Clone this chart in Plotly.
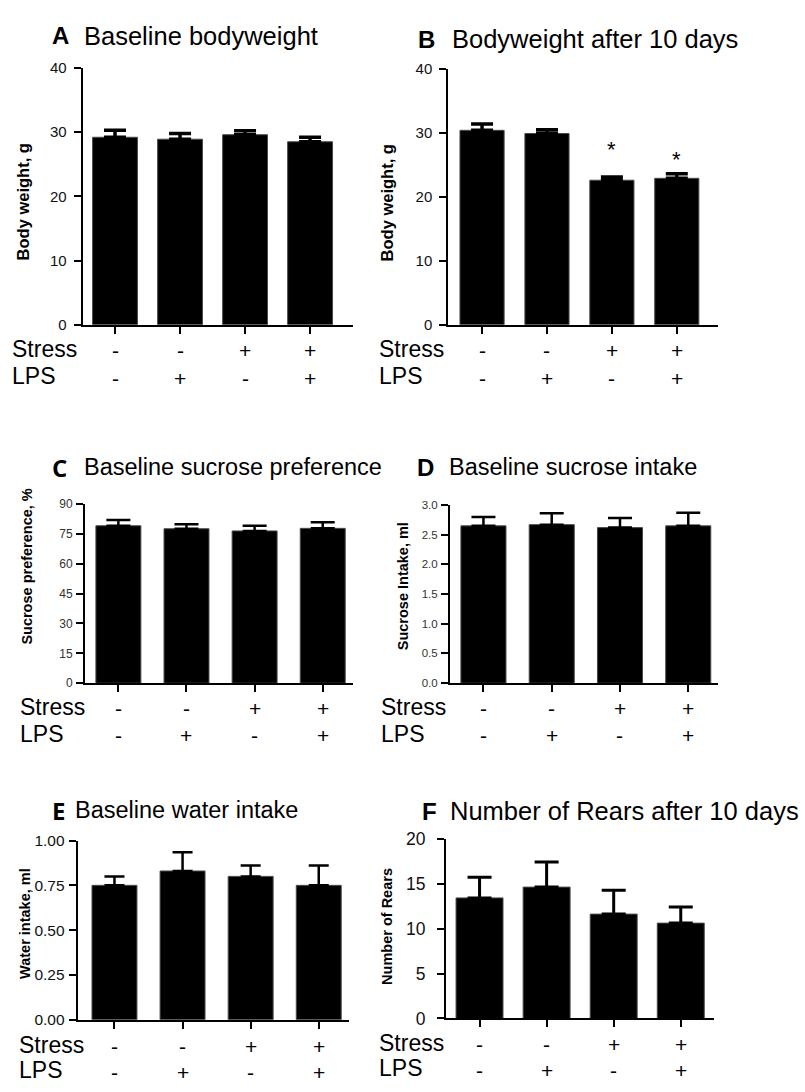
import plotly.graph_objects as go

W, H = 805, 1092

# ---------------- data ----------------
groups = ["Ctrl", "LPS", "Stress", "Stress+LPS"]
stress_signs = ["-", "-", "+", "+"]
lps_signs = ["-", "+", "-", "+"]

bw_base_mean = [29.2, 28.9, 29.6, 28.5]
bw_base_sem = [1.1, 0.9, 0.6, 0.7]

bw_10d_mean = [30.4, 29.9, 22.6, 22.9]
bw_10d_sem = [1.0, 0.6, 0.5, 0.7]
bw_10d_star = ["", "", "*", "*"]
bw_10d_star_y = [0, 0, 28.0, 26.4]

sucpref_mean = [79.1, 77.6, 76.5, 77.8]
sucpref_sem = [2.9, 2.3, 2.6, 3.1]

sucint_mean = [2.65, 2.67, 2.62, 2.65]
sucint_sem = [0.15, 0.19, 0.16, 0.22]

water_mean = [0.75, 0.83, 0.80, 0.75]
water_sem = [0.05, 0.105, 0.06, 0.11]

rears_mean = [13.4, 14.6, 11.6, 10.6]
rears_sem = [2.3, 2.8, 2.65, 1.8]

ticks_bw = [0, 10, 20, 30, 40]
ticks_pref = [0, 15, 30, 45, 60, 75, 90]
ticks_int = [0.0, 0.5, 1.0, 1.5, 2.0, 2.5, 3.0]
ticks_water = [0.0, 0.25, 0.5, 0.75, 1.0]
ticks_rears = [0, 5, 10, 15, 20]

# ---------------- layout geometry (pixels) ----------------
panels = [
    dict(letter="A", title="Baseline bodyweight", ytitle="Body weight, g",
         mean=bw_base_mean, sem=bw_base_sem, ticks=ticks_bw, fmt="d",
         xpx=(82.7, 353), ypx=(320.7, 59), xr=(-0.497, 3.66), yr=(0, 40), bw=0.69,
         tfs=15, tcol="#111", capw=11, capt=3.5, standoff=4,
         lx=50, tx=82, ty=26, tsize=25.5, lsize=24, lfont="Liberation Sans",
         ytx=23, yty=196, ytsize=16.5, rowx=10, srow=345, lrow=373),
    dict(letter="B", title="Bodyweight after 10 days", ytitle="Body weight, g",
         mean=bw_10d_mean, sem=bw_10d_sem, ticks=ticks_bw, fmt="d",
         xpx=(448.3, 717.7), ypx=(320.7, 60), xr=(-0.52, 3.63), yr=(0, 40), bw=0.68,
         tfs=15, tcol="#111", capw=11, capt=3.5, standoff=4,
         lx=416, tx=450, ty=30, tsize=25.5, lsize=24, lfont="Liberation Sans",
         ytx=387, yty=197, ytsize=16.5, rowx=377, srow=345, lrow=373),
    dict(letter="C", title="Baseline sucrose preference", ytitle="Sucrose preference, %",
         mean=sucpref_mean, sem=sucpref_sem, ticks=ticks_pref, fmt="d",
         xpx=(85, 352.7), ypx=(685.7, 503.3), xr=(-0.49, 3.44), yr=(0, 90), bw=0.66,
         tfs=12, tcol="#333", capw=12, capt=2.5, standoff=1,
         lx=50, tx=82, ty=466, tsize=23.5, lsize=24, lfont="Open Sans",
         ytx=27, yty=567, ytsize=14.5, rowx=18, srow=710, lrow=737),
    dict(letter="D", title="Baseline sucrose intake", ytitle="Sucrose Intake, ml",
         mean=sucint_mean, sem=sucint_sem, ticks=ticks_int, fmt=".1f",
         xpx=(450, 718.3), ypx=(685.7, 504.3), xr=(-0.49, 3.44), yr=(0, 3), bw=0.66,
         tfs=11.5, tcol="#333", capw=12, capt=2.5, standoff=1,
         lx=415, tx=447, ty=466, tsize=23.5, lsize=24, lfont="Liberation Sans",
         ytx=403, yty=587, ytsize=14.5, rowx=379, srow=710, lrow=737),
    dict(letter="E", title="Baseline water intake", ytitle="Water intake, ml",
         mean=water_mean, sem=water_sem, ticks=ticks_water, fmt=".2f",
         xpx=(77.7, 348.7), ypx=(1028.7, 846), xr=(-0.54, 3.44), yr=(0, 1), bw=0.66,
         tfs=15.5, tcol="#111", capw=10, capt=2.5, standoff=1,
         lx=50, tx=73, ty=815, tsize=23.5, lsize=24, lfont="Open Sans",
         ytx=25, yty=931, ytsize=14.5, rowx=17, srow=1054, lrow=1080),
    dict(letter="F", title="Number of Rears after 10 days", ytitle="Number of Rears",
         mean=rears_mean, sem=rears_sem, ticks=ticks_rears, fmt="d",
         xpx=(446, 714.3), ypx=(1027.3, 844), xr=(-0.5, 3.5), yr=(0, 20), bw=0.70,
         tfs=17.5, tcol="#111", capw=12, capt=3, standoff=8,
         lx=420, tx=448, ty=816, tsize=25.5, lsize=24, lfont="Liberation Sans",
         ytx=387, yty=934, ytsize=14.5, rowx=377, srow=1052, lrow=1078),
]


def px(x):
    return x / W


def py(y):
    return 1 - y / H


FONT = "Liberation Sans, Arial, sans-serif"
fig = go.Figure()
annotations = []
layout_axes = {}

for i, p in enumerate(panels):
    k = "" if i == 0 else str(i + 1)
    xa, ya = "x" + k, "y" + k
    xs = list(range(len(groups)))
    err = p["sem"]
    fig.add_trace(go.Bar(
        x=xs, y=p["mean"], width=p["bw"], xaxis=xa, yaxis=ya,
        marker=dict(color="black", line=dict(color="#4a4a4a", width=1)),
        error_y=dict(type="data", symmetric=False, array=err, arrayminus=[0] * len(err),
                     color="black", thickness=p["capt"], width=p["capw"]),
        showlegend=False, hoverinfo="skip",
    ))
    layout_axes["xaxis" + k] = dict(
        domain=[px(p["xpx"][0]), px(p["xpx"][1])], range=list(p["xr"]), anchor=ya,
        showline=True, linecolor="black", linewidth=2, showgrid=False, zeroline=False,
        tickmode="array", tickvals=xs, ticks="outside", ticklen=7, tickwidth=2,
        tickcolor="black", showticklabels=False, fixedrange=True,
    )
    layout_axes["yaxis" + k] = dict(
        domain=[py(p["ypx"][0]), py(p["ypx"][1])], range=list(p["yr"]), anchor=xa,
        showline=True, linecolor="black", linewidth=2, showgrid=False, zeroline=False,
        tickmode="array", tickvals=p["ticks"], tickformat=p["fmt"],
        ticks="outside", ticklen=7, tickwidth=2, tickcolor="black",
        tickfont=dict(family=FONT, size=p["tfs"], color=p["tcol"]),
        ticklabelstandoff=p["standoff"], fixedrange=True,
    )
    # panel letter and title
    annotations.append(dict(
        text="<b>%s</b>" % p["letter"], x=px(p["lx"]), y=py(p["ty"]), xref="paper", yref="paper",
        xanchor="left", yanchor="middle", showarrow=False,
        font=dict(family=p["lfont"] + ", Liberation Sans, sans-serif", size=p["lsize"], color="black")))
    annotations.append(dict(
        text=p["title"], x=px(p["tx"]), y=py(p["ty"]), xref="paper", yref="paper",
        xanchor="left", yanchor="middle", showarrow=False,
        font=dict(family=FONT, size=p["tsize"], color="black")))
    # y-axis title
    annotations.append(dict(
        text="<b>%s</b>" % p["ytitle"], x=px(p["ytx"]), y=py(p["yty"]), xref="paper", yref="paper",
        xanchor="center", yanchor="middle", textangle=-90, showarrow=False,
        font=dict(family=FONT, size=p["ytsize"], color="black")))
    # Stress / LPS rows
    for lab, rowy, signs in (("Stress", p["srow"], stress_signs), ("LPS", p["lrow"], lps_signs)):
        annotations.append(dict(
            text=lab, x=px(p["rowx"]), y=py(rowy), xref="paper", yref="paper",
            xanchor="left", yanchor="middle", showarrow=False,
            font=dict(family=FONT, size=23, color="black")))
        for j, s in enumerate(signs):
            annotations.append(dict(
                text=s, x=j, y=py(rowy + 2), xref=xa, yref="paper",
                xanchor="center", yanchor="middle", showarrow=False,
                font=dict(family=FONT, size=21, color="black")))

# significance stars on panel B
for j, (s, yv) in enumerate(zip(bw_10d_star, bw_10d_star_y)):
    if s:
        annotations.append(dict(
            text=s, x=j, y=yv, xref="x2", yref="y2", xanchor="center", yanchor="middle",
            showarrow=False, font=dict(family=FONT, size=22, color="black"), yshift=-4))

fig.update_layout(
    width=W, height=H, margin=dict(l=0, r=0, t=0, b=0),
    paper_bgcolor="white", plot_bgcolor="white",
    font=dict(family=FONT, color="black"),
    annotations=annotations, bargap=0.3,
    **layout_axes,
)

fig.write_html("out.html", config={"displayModeBar": False},
               post_script="document.body.style.margin='0';")
